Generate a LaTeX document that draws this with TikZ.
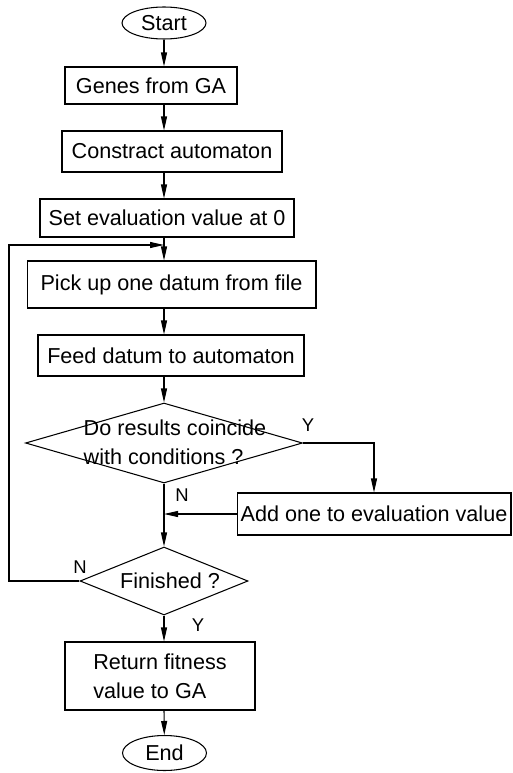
\documentclass[tikz,border=0pt]{standalone}
\usepackage{fontspec}
\setmainfont{Liberation Sans}
\usetikzlibrary{shapes.geometric, arrows.meta, positioning}

\begin{document}
\begin{tikzpicture}[
    x=0.02cm, y=-0.02cm,
    line width=0.6pt,
    >={Triangle[length=0.28cm, width=0.12cm]},
    every node/.style={font=\fontsize{12.3}{16.5}\selectfont},
    terminal/.style={
        ellipse,
        draw=black,
        inner sep=0pt,
        minimum width=1.68cm,
        minimum height=0.64cm
    },
    box/.style={
        rectangle,
        draw=black,
        inner sep=0pt,
        minimum height=0.8cm
    },
    decision/.style={diamond, draw=black, inner sep=0pt},
    yn/.style={font=\fontsize{10.5}{12}\selectfont, inner sep=0pt}
]

\useasboundingbox (0,0) rectangle (512,773);

\node[terminal] (start) at (164,23) {Start};
\node[box, minimum width=3.44cm, minimum height=0.74cm] (genes) at (151,85.5) {Genes from GA};
\node[box, minimum width=4.4cm, minimum height=0.82cm] (build) at (172,151.5) {Constract automaton};
\node[box, minimum width=5.08cm, minimum height=0.76cm] (init) at (167,218) {Set evaluation value at 0};
\node[box, minimum width=5.78cm, minimum height=0.94cm] (pick) at (171.5,284.5) {Pick up one datum from file};
\node[box, minimum width=5.32cm, minimum height=0.82cm] (feed) at (171,355.5) {Feed datum to automaton};
\node[decision, minimum width=5.54cm, minimum height=1.6cm] (match) at (164,443) {};
\node[align=left] (matchtext) at (175,442) {Do results coincide\\with conditions ?};
\node[box, minimum width=5.48cm, minimum height=0.84cm] (add) at (374,514) {Add one to evaluation value};
\node[decision, minimum width=3.36cm, minimum height=1.36cm] (done) at (164,581) {};
\node (donetext) at (170,581) {Finished ?};
\node[box, align=left, minimum width=3.8cm, minimum height=1.36cm] (ret) at (160,676) {Return fitness\\value to GA};
\node[terminal, minimum height=0.7cm] (end) at (164.5,753) {End};

\node[yn] (ylab1) at (308,425) {Y};
\node[yn] (nlab1) at (182,495) {N};
\node[yn] (nlab2) at (80,567) {N};
\node[yn] (ylab2) at (198,625) {Y};

\coordinate (back) at (164,245);
\coordinate (side) at (9,581);
\coordinate (merge) at (match.south |- add.west);

\draw[->] (start) -- (start |- genes.north);
\draw[->] (start |- genes.south) -- (start |- build.north);
\draw[->] (start |- build.south) -- (start |- init.north);
\draw[->] (start |- init.south) -- (start |- pick.north);
\draw[->] (start |- pick.south) -- (start |- feed.north);
\draw[->] (start |- feed.south) -- (match.north);
\draw[->] (match.east) -| (add);
\draw[->] (match.south) -- (done.north);
\draw[->] (add.west) -- (merge);
\draw[->] (done.west) -- (side) |- (back);
\draw[->] (done.south) -- (start |- ret.north);
\draw[->] (start |- ret.south) -- (end);

\end{tikzpicture}
\end{document}
